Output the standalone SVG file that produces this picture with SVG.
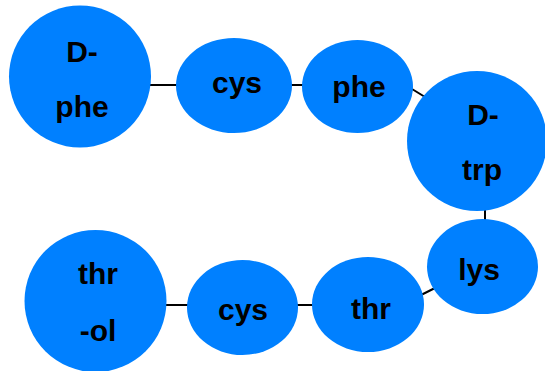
<svg xmlns="http://www.w3.org/2000/svg" width="545" height="371" viewBox="0 0 545 371">
<style>
.n{fill:#0080ff;}
.t{font-family:"Liberation Sans",Arial,sans-serif;font-weight:bold;font-size:30px;fill:#000;text-anchor:middle;}
.e{stroke:#000;stroke-width:2;fill:none;}
</style>
<rect width="545" height="371" fill="#fff"/>
<g id="edges">
<line class="e" x1="150" y1="85" x2="178" y2="85"/>
<line class="e" x1="290" y1="85" x2="304" y2="85"/>
<line class="e" x1="412" y1="89" x2="425" y2="97"/>
<line class="e" x1="485" y1="208" x2="485" y2="221"/>
<line class="e" x1="422" y1="294.5" x2="434" y2="288.5"/>
<line class="e" x1="296" y1="305" x2="314" y2="305"/>
<line class="e" x1="165" y1="305" x2="189" y2="305"/>
</g>
<g id="n1"><circle class="n" cx="80" cy="76.5" r="71"/><text class="t" x="82" y="62">D-</text><text class="t" x="82" y="117">phe</text></g>
<g id="n2"><ellipse class="n" cx="234" cy="85.5" rx="58" ry="47.5"/><text class="t" x="237" y="93">cys</text></g>
<g id="n3"><ellipse class="n" cx="357.5" cy="86.5" rx="55.5" ry="46.5"/><text class="t" x="359" y="97">phe</text></g>
<g id="n4"><circle class="n" cx="477" cy="141" r="70"/><text class="t" x="483" y="125">D-</text><text class="t" x="482" y="180">trp</text></g>
<g id="n5"><ellipse class="n" cx="482.5" cy="266.5" rx="55.5" ry="47.5"/><text class="t" x="479" y="280">lys</text></g>
<g id="n6"><ellipse class="n" cx="368" cy="304.5" rx="56" ry="47.5"/><text class="t" x="371" y="319">thr</text></g>
<g id="n7"><ellipse class="n" cx="242.5" cy="307.5" rx="55.5" ry="47.5"/><text class="t" x="243" y="320">cys</text></g>
<g id="n8"><circle class="n" cx="95.5" cy="301" r="71"/><text class="t" x="98" y="284">thr</text><text class="t" x="98" y="341">-ol</text></g>
</svg>
